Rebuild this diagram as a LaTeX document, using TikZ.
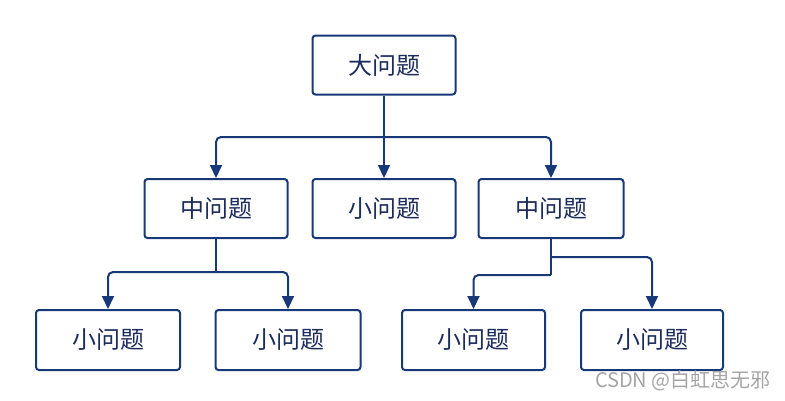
\documentclass[tikz,border=0pt]{standalone}
\usepackage{fontspec}
\setmainfont{Noto Sans CJK SC}
\usetikzlibrary{arrows.meta}
\definecolor{navy}{RGB}{24,56,120}
\definecolor{txt}{RGB}{28,44,92}
\definecolor{wm}{RGB}{165,165,165}
\begin{document}
\begin{tikzpicture}[x=1pt,y=-1pt,
  box/.style={draw=navy,line width=2pt,rounded corners=3pt,fill=white,
    minimum width=143pt,minimum height=59pt,inner sep=0pt,
    text=txt,font=\fontsize{24}{26}\selectfont},
  link/.style={draw=navy,line width=2pt,rounded corners=5pt},
  arr/.style={link,-{Triangle[width=12pt,length=13pt]}}]
\useasboundingbox[fill=white] (0,0) rectangle (785,400);
% nodes
\node[box] (big) at (384,65) {大问题};
\node[box] (m1) at (216,208.5) {中问题};
\node[box] (m2) at (384,208.5) {小问题};
\node[box,minimum width=145pt] (m3) at (551,208.5) {中问题};
\node[box,minimum width=144pt,minimum height=60pt] (b1) at (108,340) {小问题};
\node[box,minimum width=145pt,minimum height=60pt] (b2) at (288,340) {小问题};
\node[box,minimum height=60pt] (b3) at (473.5,340) {小问题};
\node[box,minimum width=142pt,minimum height=60pt] (b4) at (652,340) {小问题};
% junctions
\coordinate (j0) at (384,137);
\coordinate (j1) at (216,272);
\coordinate (j2) at (551,257);
\coordinate (j3) at (551,275);
% connectors
\draw[link] (big.south) -- (j0);
\draw[arr] (j0) -| (m1.north);
\draw[arr] (j0) -- (m2.north);
\draw[arr] (j0) -| (m3.north);
\draw[link] (m1.south) -- (j1);
\draw[arr] (j1) -| (b1.north);
\draw[arr] (j1) -| (b2.north);
\draw[link] (m3.south) -- (j3);
\draw[arr] (j3) -| (b3.north);
\draw[arr] (j2) -| (b4.north);
% watermark
\node[text=wm,font=\fontsize{20}{22}\selectfont,anchor=east,inner sep=0pt] (wmk) at (771,381) {CSDN @白虹思无邪};
\end{tikzpicture}
\end{document}
